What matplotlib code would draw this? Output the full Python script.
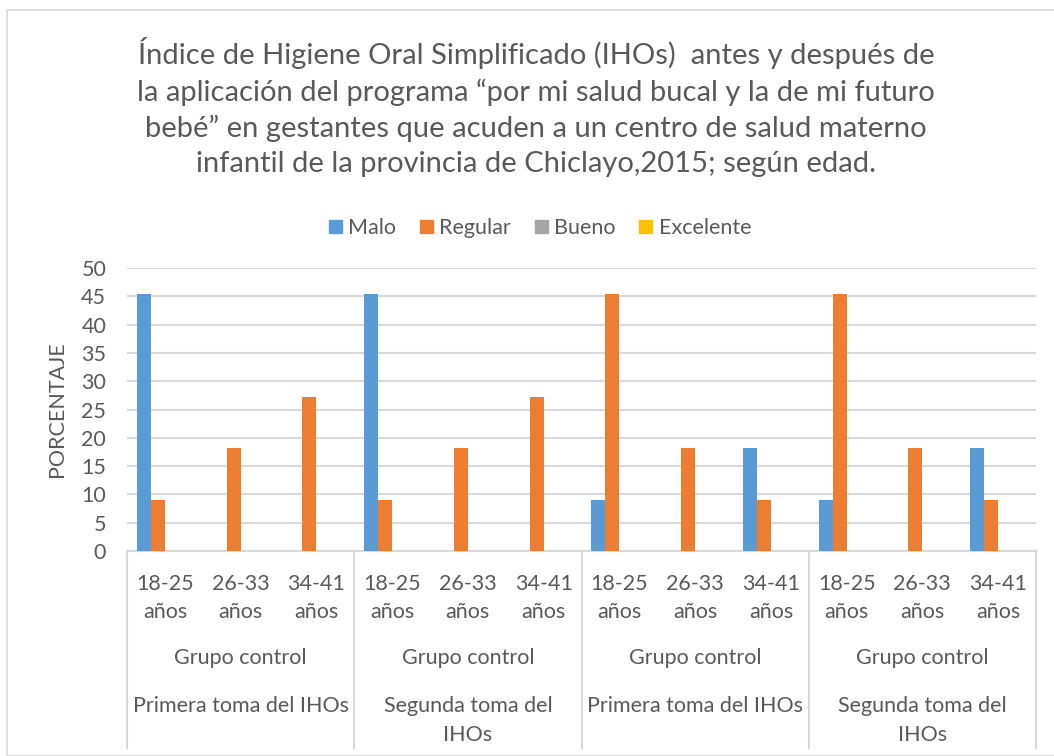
import matplotlib
matplotlib.use("Agg")
import matplotlib.pyplot as plt
from matplotlib.patches import Patch, Rectangle
import numpy as np

plt.rcParams['font.family'] = ['Lato', 'DejaVu Sans']

# data
ages = ["18-25\naños", "26-33\naños", "34-41\naños"] * 4
grupo = ["Grupo control"] * 4
toma = ["Primera toma del IHOs", "Segunda toma del\nIHOs",
        "Primera toma del IHOs", "Segunda toma del\nIHOs"]
series = ["Malo", "Regular", "Bueno", "Excelente"]
malo = [45.45, 0, 0, 45.45, 0, 0, 9.09, 0, 18.18, 9.09, 0, 18.18]
regular = [9.09, 18.18, 27.27, 9.09, 18.18, 27.27, 45.45, 18.18, 9.09, 45.45, 18.18, 9.09]
bueno = [0] * 12
excelente = [0] * 12
colors = ["#5B9BD5", "#ED7D31", "#A5A5A5", "#FFC000"]

title = ("Índice de Higiene Oral Simplificado (IHOs)  antes y después de\n"
         "la aplicación del programa “por mi salud bucal y la de mi futuro\n"
         "bebé” en gestantes que acuden a un centro de salud materno\n"
         "infantil de la provincia de Chiclayo,2015; según edad.")

txt = "#595959"
grid = "#d9d9d9"
W, H = 1054, 756
fs = 15.5

fig = plt.figure(figsize=(W / 100, H / 100), dpi=100)
fig.patches.append(Rectangle((7 / W, 0), 1.1, 1 - 10 / H, transform=fig.transFigure,
                             fill=False, edgecolor=grid, linewidth=1.2))

x0, x1, ytop, ybot = 127, 1036, 268, 551
ax = fig.add_axes([x0 / W, 1 - ybot / H, (x1 - x0) / W, (ybot - ytop) / H])

x = np.arange(12)
w = 0.185
for i, (vals, name) in enumerate(zip([malo, regular, bueno, excelente], series)):
    ax.bar(x + (i - 1.5) * w, vals, width=w, color=colors[i], label=name, linewidth=0, zorder=3)

ax.set_xlim(-0.5, 11.5)
ax.set_ylim(0, 50)
ax.set_yticks(np.arange(0, 51, 5))
ax.tick_params(axis='y', length=0, labelsize=fs, labelcolor=txt, pad=15)
ax.set_xticks([])
ax.yaxis.grid(True, color=grid, linewidth=1.5, zorder=0)
for s in ["top", "right", "left"]:
    ax.spines[s].set_visible(False)
ax.spines["bottom"].set_color(grid)
ax.spines["bottom"].set_linewidth(1.5)
ax.set_ylabel("PORCENTAJE", fontsize=fs, color=txt, labelpad=10)

ph = ybot - ytop
tr = ax.get_xaxis_transform()
for xi, lab in zip(x, ages):
    ax.text(xi, -(598 - ybot) / ph, lab, ha='center', va='center', fontsize=fs,
            color=txt, transform=tr, linespacing=1.55)
for g in range(4):
    xc = g * 3 + 1
    ax.text(xc, -(658 - ybot) / ph, grupo[g], ha='center', va='center', fontsize=fs,
            color=txt, transform=tr)
    ax.text(xc, -(696 - ybot) / ph, toma[g], ha='center', va='top', fontsize=fs,
            color=txt, transform=tr, linespacing=1.55)
for b in [-0.5, 2.5, 5.5, 8.5, 11.5]:
    ax.plot([b, b], [0, -(748 - ybot) / ph], color=grid, linewidth=1.5,
            transform=tr, clip_on=False)

fig.text(536 / W, 1 - 107 / H, title, ha='center', va='center', fontsize=21,
         color=txt, linespacing=1.42)

handles = [Patch(color=c) for c in colors]
fig.legend(handles, series, loc='center', bbox_to_anchor=(540 / W, 1 - 228 / H), ncol=4,
           frameon=False, fontsize=fs, labelcolor=txt, handlelength=0.6,
           handleheight=0.6, handletextpad=0.3, columnspacing=1.1)

fig.savefig("out.png", dpi=100)
